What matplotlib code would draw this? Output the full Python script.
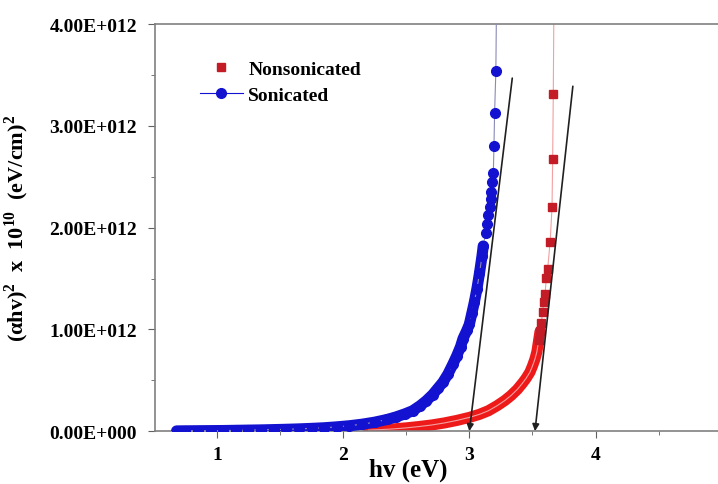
import matplotlib.pyplot as plt
from matplotlib.ticker import MultipleLocator, FuncFormatter

# Sonicated (blue circles), hv in eV and (alpha hv)^2 in units of 1e12
son_x = [0.68, 0.75, 0.85, 0.95, 1.05, 1.15, 1.25, 1.35, 1.45, 1.55, 1.65, 1.75,
         1.85, 1.95, 2.05, 2.15, 2.25, 2.35, 2.42, 2.49, 2.55, 2.61, 2.66, 2.71,
         2.75, 2.79, 2.83, 2.87, 2.90, 2.93, 2.95, 2.98, 3.00, 3.02, 3.04, 3.06,
         3.08, 3.10, 3.11, 3.13, 3.14, 3.15, 3.16, 3.17, 3.175, 3.18, 3.19,
         3.195, 3.20, 3.21, 3.215]
son_y = [0.002, 0.003, 0.004, 0.005, 0.006, 0.008, 0.010, 0.012, 0.015, 0.018,
         0.022, 0.027, 0.033, 0.042, 0.053, 0.068, 0.088, 0.115, 0.14, 0.17,
         0.20, 0.25, 0.30, 0.36, 0.42, 0.48, 0.56, 0.66, 0.74, 0.83, 0.91, 0.99,
         1.05, 1.16, 1.27, 1.40, 1.55, 1.72, 1.82, 1.95, 2.04, 2.12, 2.20, 2.28,
         2.35, 2.45, 2.54, 2.80, 3.13, 3.54, 4.20]

# Nonsonicated (red squares)
non_x = [2.20, 2.30, 2.40, 2.50, 2.60, 2.70, 2.80, 2.90, 3.00, 3.08, 3.15,
         3.22, 3.28, 3.33, 3.38, 3.42, 3.45, 3.48, 3.50, 3.52, 3.535, 3.55,
         3.56, 3.57, 3.58, 3.59, 3.60, 3.61, 3.62, 3.64, 3.655, 3.66, 3.665,
         3.67]
non_y = [0.010, 0.015, 0.022, 0.032, 0.045, 0.060, 0.080, 0.105, 0.135, 0.165,
         0.20, 0.25, 0.30, 0.35, 0.41, 0.47, 0.52, 0.58, 0.64, 0.71, 0.78, 0.90,
         0.98, 1.06, 1.17, 1.27, 1.35, 1.51, 1.59, 1.86, 2.20, 2.68, 3.31, 4.20]

# tangent lines (start, end) for band-gap extrapolation
tan_son = ([3.34, 3.00], [3.47, 0.0])
tan_non = ([3.82, 3.52], [3.39, 0.0])

plt.rcParams['font.family'] = ['Liberation Serif', 'DejaVu Serif']
plt.rcParams['font.weight'] = 'bold'
plt.rcParams['mathtext.fontset'] = 'custom'
plt.rcParams['mathtext.rm'] = 'Liberation Serif:bold'
plt.rcParams['mathtext.bf'] = 'Liberation Serif:bold'

fig = plt.figure(figsize=(7.18, 4.85), dpi=100)
ax = fig.add_axes([0.216, 0.109, 0.842, 0.839])

red = '#ee1a1a'
dred = '#c41c26'
blue = '#1212d0'

# dense lower part of each curve shows as a solid band
nb = [i for i, v in enumerate(non_y) if v < 1.0]
nm = [i for i, v in enumerate(non_y) if v >= 0.9]
ax.plot([non_x[i] for i in nb], [non_y[i] for i in nb], '-', color=red,
        lw=8, solid_capstyle='round', zorder=1)
ax.plot(non_x, non_y, '-', color='#f2a0a0', lw=0.8, zorder=1)
ax.plot([non_x[i] for i in nm], [non_y[i] for i in nm], 's', color=dred,
        ms=6, mec=dred, zorder=2)
ax.plot([], [], 's', color=dred, ms=6, label='Nonsonicated')
sb = [i for i, v in enumerate(son_y) if v < 1.9]
ax.plot([son_x[i] for i in sb], [son_y[i] for i in sb], '-', color=blue,
        lw=8, solid_capstyle='round', zorder=3)
ax.plot(son_x, son_y, '-', color='#8a8ab8', lw=0.8, zorder=3)
ax.plot(son_x, son_y, 'o', color=blue, ms=7, mec=blue, zorder=4)
# legend handle for the blue series shows line + marker
ax.plot([], [], '-o', color=blue, ms=7, lw=0.8, label='Sonicated')

for tx, ty in (tan_son, tan_non):
    ax.annotate('', xy=(tx[1], ty[1]), xytext=(tx[0], ty[0]),
                arrowprops=dict(arrowstyle='-|>', color='#202020', lw=1.2,
                                mutation_scale=10, shrinkA=0, shrinkB=0),
                zorder=5)

ax.set_xlim(0.51, 5.3)
ax.set_ylim(0, 4.0)
ax.xaxis.set_major_locator(MultipleLocator(1))
ax.xaxis.set_minor_locator(MultipleLocator(0.5))
ax.yaxis.set_major_locator(MultipleLocator(1))
ax.yaxis.set_minor_locator(MultipleLocator(0.5))
ax.yaxis.set_major_formatter(FuncFormatter(
    lambda v, p: '0.00E+000' if v == 0 else '%.2fE+012' % v))
ax.tick_params(which='both', direction='out', color='#606060', labelsize=14)
ax.tick_params(which='major', length=5)
ax.tick_params(which='minor', length=3)
ax.tick_params(axis='x', pad=6)
ax.tick_params(axis='y', pad=8)
for s in ax.spines.values():
    s.set_color('#808080')
    s.set_linewidth(1.2)

ax.set_xlabel('hv (eV)', fontsize=18, fontweight='bold')
ax.xaxis.set_label_coords(0.419, -0.065)
ax.set_ylabel('(αhv)$^{2}$  x  10$^{10}$  (eV/cm)$^{2}$',
              fontsize=16, fontweight='bold')
ax.yaxis.set_label_coords(-0.205, 0.50)

leg = ax.legend(loc='upper left', bbox_to_anchor=(0.045, 0.955), frameon=False,
                fontsize=14, handlelength=2.2, handletextpad=0.3,
                labelspacing=0.45)

fig.savefig('out.png', dpi=100)
